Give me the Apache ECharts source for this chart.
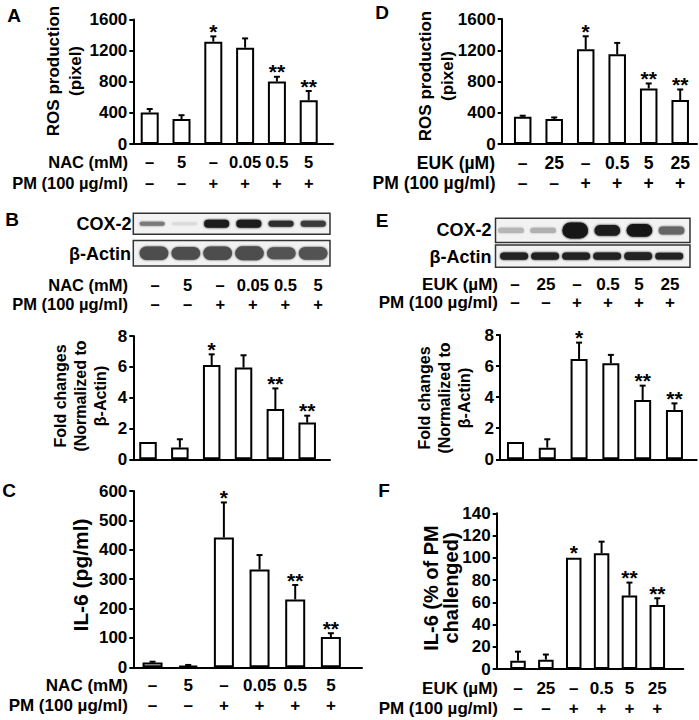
<!DOCTYPE html>
<html><head><meta charset="utf-8">
<script src="https://cdn.jsdelivr.net/npm/echarts@6/dist/echarts.min.js"></script>
<style>html,body{margin:0;padding:0;background:#fff}#c{width:699px;height:720px}</style>
</head><body><div id="c"></div>
<script>
// ---------- data ----------
const nacDose = ['–', '5', '–', '0.05', '0.5', '5'];
const eukDose = ['–', '25', '–', '0.5', '5', '25'];
const pmDose  = ['–', '–', '+', '+', '+', '+'];
const sig     = ['', '', '*', '', '**', '**'];

const rosNAC    = [405, 320, 1315, 1238, 804, 562];
const rosNACsem = [45, 50, 68, 119, 60, 119];
const rosEUK    = [349, 319, 1213, 1149, 711, 562];
const rosEUKsem = [13, 21, 166, 145, 64, 136];
const coxNAC    = [1.12, 0.76, 6.12, 5.95, 3.26, 2.38];
const coxNACsem = [0, 0.54, 0.69, 0.8, 1.34, 0.45];
const coxEUK    = [1.12, 0.75, 6.46, 6.18, 3.82, 3.18];
const coxEUKsem = [0, 0.54, 1.05, 0.54, 0.92, 0.42];
const il6NAC    = [16, 6, 442, 333, 231, 103];
const il6NACsem = [3, 2, 119, 49, 49, 13];
const il6EUK    = [7.5, 8.4, 100, 104, 66, 57.6];
const il6EUKsem = [8.1, 4.6, 0, 10.5, 11.7, 6];

const ticksROS = [0, 400, 800, 1200, 1600];
const ticksFold = [0, 2, 4, 6, 8];
const ticksIL6 = [0, 100, 200, 300, 400, 500, 600];
const ticksIL6pct = [0, 20, 40, 60, 80, 100, 120, 140];

// western blot band densities (0 = none, 1 = black) and relative band spread
const coxBandNAC     = [0.52, 0.14, 0.88, 0.88, 0.82, 0.77];
const coxSpreadNAC   = [0.19, 0.14, 0.38, 0.38, 0.29, 0.29];
const actinBandNAC   = [0.70, 0.70, 0.70, 0.70, 0.68, 0.68];
const actinSpreadNAC = [0.52, 0.50, 0.52, 0.54, 0.48, 0.50];
const coxBandEUK     = [0.29, 0.31, 0.92, 0.88, 0.90, 0.60];
const coxSpreadEUK   = [0.21, 0.21, 0.66, 0.44, 0.52, 0.33];
const actinBandEUK   = [0.87, 0.87, 0.87, 0.87, 0.87, 0.87];
const actinSpreadEUK = [0.32, 0.32, 0.32, 0.32, 0.34, 0.30];

// ---------- builders ----------
const FONT = '"Liberation Sans", Arial, Helvetica, sans-serif';
const grids = [], xAxes = [], yAxes = [], series = [], texts = [];

function addGrid(g, x, y) {
  grids.push(Object.assign({containLabel: false, outerBoundsMode: 'none'}, g));
  const i = grids.length - 1;
  x.gridIndex = i; y.gridIndex = i;
  xAxes.push(x); yAxes.push(y);
  return i;
}
const black2 = {color: '#000', width: 2};

function barPanel(o) {
  const t = o.ticks;
  const xLab = o.rows ? {
    show: true, customValues: [0, 1, 2, 3, 4, 5],
    formatter: v => { const k = Math.round(v); return o.rows[0][k] + '\n' + o.rows[1][k]; },
    color: '#000', fontFamily: FONT, fontWeight: 'bold', fontSize: o.rowFont,
    lineHeight: o.rowLH, margin: o.rowMargin
  } : {show: false};
  const i = addGrid({left: o.left, top: o.top, width: o.width, height: o.height},
    {type: 'value', min: o.xMin, max: o.xMax, axisLine: {show: true, onZero: false, lineStyle: black2},
     axisTick: {show: false}, splitLine: {show: false}, axisLabel: xLab},
    {type: 'value', min: t[0], max: t[t.length - 1], interval: t[1] - t[0],
     axisLine: {show: true, onZero: false, lineStyle: black2},
     axisTick: {show: true, length: 4, lineStyle: black2}, splitLine: {show: false},
     axisLabel: {color: '#000', fontFamily: FONT, fontWeight: 'bold', fontSize: 17, margin: 6,
       formatter: v => String(v)}});
  series.push({type: 'bar', xAxisIndex: i, yAxisIndex: i, barWidth: o.barWidth, silent: true,
    data: o.values.map((v, k) => [k, v]),
    itemStyle: {color: '#fff', borderColor: '#000', borderWidth: 2}});
  series.push({type: 'custom', xAxisIndex: i, yAxisIndex: i, silent: true, z: 4,
    data: o.values.map((v, k) => [k, v, v + o.sem[k]]),
    renderItem: (p, api) => {
      const m = api.value(1), top = api.value(2);
      const p0 = api.coord([api.value(0), m]), p1 = api.coord([api.value(0), top]);
      const ch = [];
      if (top > m) {
        ch.push({type: 'line', shape: {x1: p0[0], y1: p0[1], x2: p1[0], y2: p1[1]}, style: {stroke: '#000', lineWidth: 2}});
        ch.push({type: 'line', shape: {x1: p1[0] - 3, y1: p1[1], x2: p1[0] + 3, y2: p1[1]}, style: {stroke: '#000', lineWidth: 2}});
      }
      const s = sig[p.dataIndex];
      if (s) ch.push({type: 'text', x: p1[0], y: p1[1] - 5,
        style: {text: s, font: 'bold 21px ' + FONT, fill: '#000', textAlign: 'center', textVerticalAlign: 'middle'}});
      return {type: 'group', children: ch};
    }});
}

function rowGrid(o) {
  addGrid({left: o.left, top: o.axisY - 1, width: o.width, height: 1},
    {type: 'value', min: -0.5, max: 5.5, axisLine: {show: false}, axisTick: {show: false}, splitLine: {show: false},
     axisLabel: {show: true, customValues: [0, 1, 2, 3, 4, 5],
       formatter: v => { const k = Math.round(v); return o.rows[0][k] + '\n' + o.rows[1][k]; },
       color: '#000', fontFamily: FONT, fontWeight: 'bold', fontSize: o.font, lineHeight: o.lh, margin: 0}},
    {type: 'value', show: false, min: 0, max: 1});
}

function blotBox(o) {
  const i = addGrid({left: o.left, top: o.top, width: o.width, height: o.height, show: true,
      backgroundColor: '#f2f2f2', borderColor: '#333', borderWidth: 1.5},
    {type: 'value', min: o.xMin, max: o.xMax, show: false},
    {type: 'value', min: 0, max: 1, show: false});
  series.push({type: 'custom', xAxisIndex: i, yAxisIndex: i, silent: true,
    data: o.density.map((d, k) => [k, d, o.spread[k]]),
    renderItem: (p, api) => {
      const c = api.coord([api.value(0), 0.5]);
      const w = api.size([1, 0])[0] * o.widthFrac;
      const h = api.value(2) * o.height;
      const g = Math.round(255 * (1 - api.value(1)));
      const col = 'rgb(' + g + ',' + g + ',' + g + ')';
      return {type: 'rect', shape: {x: c[0] - w / 2, y: c[1] - h / 2, width: w, height: h, r: h / 2},
        style: {fill: col, shadowBlur: 2, shadowColor: col}};
    }});
}

function txt(s, x, y, size, align, extra) {
  texts.push(Object.assign({type: 'text', x: x, y: y, silent: true,
    style: {text: s, font: 'bold ' + size + 'px ' + FONT, fill: '#000', textAlign: align || 'center',
      textVerticalAlign: 'middle'}}, extra || {}));
}
function vtxt(s, x, y, size, lh) {
  texts.push({type: 'text', x: x, y: y, rotation: Math.PI / 2, silent: true,
    style: {text: s, font: 'bold ' + size + 'px ' + FONT, fill: '#000', textAlign: 'center',
      textVerticalAlign: 'middle', lineHeight: lh}});
}

// ---------- panels ----------
// A
barPanel({left: 133.3, top: 19.5, width: 199.7, height: 124.5, xMin: -0.516, xMax: 5.764,
  ticks: ticksROS, values: rosNAC, sem: rosNACsem, barWidth: 18,
  rows: [nacDose, pmDose], rowFont: 16.5, rowLH: 21, rowMargin: 7.5});
// D
barPanel({left: 501.7, top: 19, width: 195.3, height: 125, xMin: -0.667, xMax: 5.533,
  ticks: ticksROS, values: rosEUK, sem: rosEUKsem, barWidth: 17.5,
  rows: [eukDose, pmDose], rowFont: 17.5, rowLH: 20, rowMargin: 9});
// B bars
barPanel({left: 133.3, top: 336, width: 196.7, height: 123.3, xMin: -0.462, xMax: 5.716,
  ticks: ticksFold, values: coxNAC, sem: coxNACsem, barWidth: 17.5});
// E bars
barPanel({left: 500, top: 335, width: 196.7, height: 124.3, xMin: -0.487, xMax: 5.70,
  ticks: ticksFold, values: coxEUK, sem: coxEUKsem, barWidth: 17});
// C
barPanel({left: 133.3, top: 491, width: 228.7, height: 176.3, xMin: -0.54, xMax: 5.873,
  ticks: ticksIL6, values: il6NAC, sem: il6NACsem, barWidth: 20,
  rows: [nacDose, pmDose], rowFont: 17, rowLH: 20, rowMargin: 7.7});
// F
barPanel({left: 496.7, top: 513.3, width: 186.6, height: 155.7, xMin: -0.765, xMax: 5.933,
  ticks: ticksIL6pct, values: il6EUK, sem: il6EUKsem, barWidth: 15.5,
  rows: [eukDose, pmDose], rowFont: 17, rowLH: 20, rowMargin: 9});

// B blots
blotBox({left: 133.3, top: 213.3, width: 196.7, height: 21, xMin: -0.587, xMax: 5.52,
  density: coxBandNAC, spread: coxSpreadNAC, widthFrac: 0.78});
blotBox({left: 133.3, top: 240.5, width: 196.7, height: 25.5, xMin: -0.65, xMax: 5.53,
  density: actinBandNAC, spread: actinSpreadNAC, widthFrac: 0.9});
rowGrid({left: 138.7, width: 195.6, axisY: 275, rows: [nacDose, pmDose], font: 16.5, lh: 19});
// E blots
blotBox({left: 495.5, top: 218.3, width: 194.5, height: 24.2, xMin: -0.483, xMax: 5.576,
  density: coxBandEUK, spread: coxSpreadEUK, widthFrac: 0.8});
blotBox({left: 495.5, top: 245, width: 194.5, height: 22.3, xMin: -0.6, xMax: 5.67,
  density: actinBandEUK, spread: actinSpreadEUK, widthFrac: 0.9});
rowGrid({left: 499.5, width: 186, axisY: 275, rows: [eukDose, pmDose], font: 17, lh: 18.5});

// ---------- texts ----------
txt('A', 14, 15, 19); txt('D', 382, 12, 19); txt('B', 12, 219, 19);
txt('E', 382, 220, 19); txt('C', 9, 490, 19); txt('F', 384, 490, 19);

txt('NAC (mM)', 128, 162, 16.5, 'right'); txt('PM (100 µg/ml)', 128, 183, 16.5, 'right');
txt('EUK (µM)', 495, 163, 17.5, 'right'); txt('PM (100 µg/ml)', 495.5, 183, 17.5, 'right');
txt('COX-2', 131.5, 223.5, 18, 'right'); txt('β-Actin', 131, 254, 18, 'right');
txt('NAC (mM)', 128, 284.5, 16.5, 'right'); txt('PM (100 µg/ml)', 128, 303.5, 16.5, 'right');
txt('COX-2', 491.5, 230, 18, 'right'); txt('β-Actin', 491.5, 256.5, 18, 'right');
txt('EUK (µM)', 498, 284, 17, 'right'); txt('PM (100 µg/ml)', 498, 302.5, 17, 'right');
txt('NAC (mM)', 128, 685, 17, 'right'); txt('PM (100 µg/ml)', 128, 705, 17, 'right');
txt('EUK (µM)', 498, 688, 17, 'right'); txt('PM (100 µg/ml)', 498, 708, 17, 'right');

vtxt('ROS production\n(pixel)', 64, 71, 17, 22);
vtxt('ROS production\n(pixel)', 436.5, 76, 17, 22);
vtxt('Fold changes\n(Normalized to\nβ-Actin)', 80, 396, 16, 20);
vtxt('Fold changes\n(Normalized to\nβ-Actin)', 444, 398, 16, 20);
vtxt('IL-6 (pg/ml)', 80, 575, 21, 22);
vtxt('IL-6 (% of PM\nchallenged)', 441, 588, 20, 20);

const chart = echarts.init(document.getElementById('c'), null, {renderer: 'svg', width: 699, height: 720});
chart.setOption({
  backgroundColor: '#fff', animation: false,
  grid: grids, xAxis: xAxes, yAxis: yAxes, series: series,
  graphic: {elements: texts}
});
</script></body></html>
